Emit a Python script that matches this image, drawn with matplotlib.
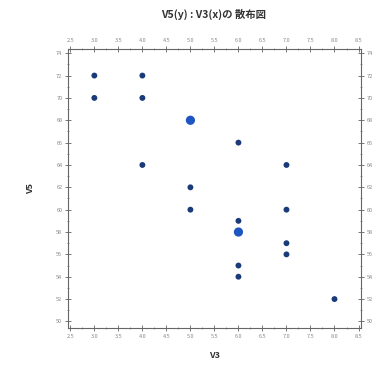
import matplotlib
matplotlib.use("Agg")
import matplotlib.pyplot as plt
from matplotlib.ticker import MultipleLocator, FormatStrFormatter

plt.rcParams['font.family'] = ['Noto Sans CJK JP', 'DejaVu Sans']

v3 = [3.0, 3.0, 4.0, 4.0, 5.0, 4.0, 6.0, 7.0, 5.0, 5.0, 7.0, 6.0, 6.0, 7.0, 7.0, 6.0, 6.0, 8.0]
v5 = [72, 70, 72, 70, 68, 64, 66, 64, 62, 60, 60, 59, 58, 57, 56, 55, 54, 52]
counts = [1, 1, 1, 1, 2, 1, 1, 1, 1, 1, 1, 1, 2, 1, 1, 1, 1, 1]

title = "V5(y) : V3(x)の 散布図"
xlabel = "V3"
ylabel = "V5"

fig = plt.figure(figsize=(3.86, 3.75), dpi=100)
ax = fig.add_axes([0.176, 0.125, 0.759, 0.745])

sizes = [18 if c == 1 else 44 for c in counts]
colors = ["#1b3a7a" if c == 1 else "#1d56c2" for c in counts]
ax.scatter(v3, v5, s=sizes, c=colors, linewidths=0, zorder=3)

ax.set_xlim(2.45, 8.55)
ax.set_ylim(49.4, 74.4)
ax.xaxis.set_major_locator(MultipleLocator(0.5))
ax.xaxis.set_minor_locator(MultipleLocator(0.25))
ax.yaxis.set_major_locator(MultipleLocator(2))
ax.yaxis.set_minor_locator(MultipleLocator(1))
ax.xaxis.set_major_formatter(FormatStrFormatter('%.1f'))
ax.yaxis.set_major_formatter(FormatStrFormatter('%d'))

ax.tick_params(which='both', direction='inout', top=True, right=True,
               labeltop=True, labelright=True, color='#777777')
ax.tick_params(which='major', length=4, width=0.7, labelsize=4, labelcolor='#888888', pad=2)
ax.tick_params(which='minor', length=2, width=0.5)
for sp in ax.spines.values():
    sp.set_color('#666666')
    sp.set_linewidth(0.8)

fig.text(0.553, 0.962, title, ha='center', va='center', fontsize=7.5, fontweight='bold', color='#333333')
ax.set_xlabel(xlabel, fontsize=6.5, fontweight='bold', color='#333333', labelpad=9)
ax.set_ylabel(ylabel, fontsize=6.5, fontweight='bold', color='#333333', labelpad=15)

fig.savefig("out.png", dpi=100)
